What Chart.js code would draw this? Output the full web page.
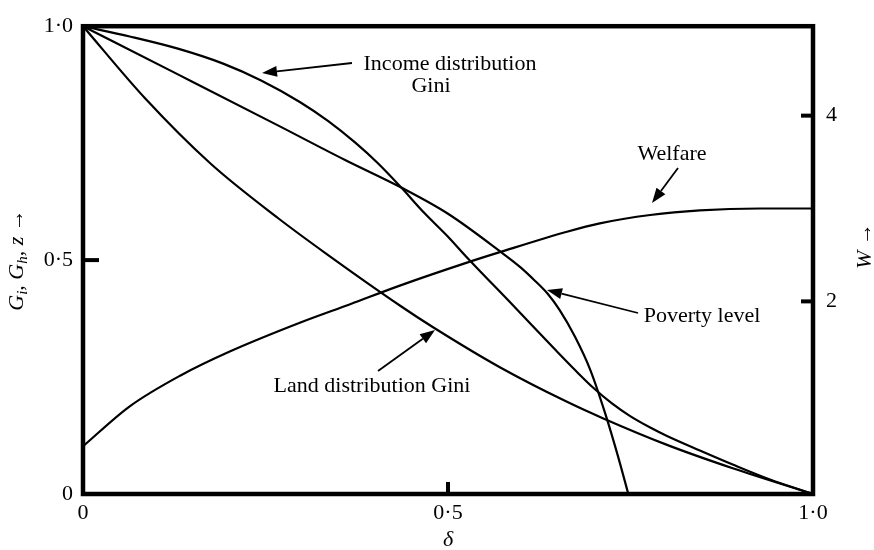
<!DOCTYPE html>
<html><head><meta charset="utf-8">
<script src="https://cdn.jsdelivr.net/npm/chart.js@4.4.1/dist/chart.umd.min.js"></script>
<style>html,body{margin:0;padding:0;background:#fff}#wrap{width:874px;height:550px;position:relative}</style>
</head><body><div id="wrap"><canvas id="c" width="874" height="550"></canvas></div>
<script>
// Axis ticks
const deltaTicks = [0, 0.5, 1.0];
const deltaTickLabels = ['0', '0·5', '1·0'];
const gTicks = [0, 0.5, 1.0];
const gTickLabels = ['0', '0·5', '1·0'];
const wTicks = [2, 4];
const wTickLabels = ['2', '4'];

// Income distribution Gini (G_i)
const incomeDelta = [0, 0.064, 0.130, 0.192, 0.244, 0.297, 0.336, 0.373, 0.404, 0.436, 0.468, 0.5, 0.527, 0.588, 0.649, 0.674, 0.699, 0.725, 0.749, 0.777, 0.8, 0.845, 0.890, 0.941, 1.0];
const incomeGini  = [1, 0.978, 0.952, 0.920, 0.884, 0.838, 0.797, 0.751, 0.707, 0.655, 0.600, 0.550, 0.504, 0.405, 0.305, 0.265, 0.227, 0.193, 0.167, 0.142, 0.124, 0.093, 0.063, 0.031, 0];

// Poverty level (z)
const povertyDelta = [0, 0.130, 0.267, 0.359, 0.436, 0.5, 0.571, 0.599, 0.619, 0.636, 0.653, 0.674, 0.695, 0.715, 0.733, 0.747];
const povertyLevel = [1, 0.897, 0.788, 0.714, 0.655, 0.599, 0.519, 0.485, 0.456, 0.429, 0.393, 0.336, 0.265, 0.174, 0.080, 0];

// Land distribution Gini (G_h)
const landDelta = [0, 0.085, 0.175, 0.267, 0.332, 0.434, 0.479, 0.571, 0.663, 0.712, 0.8, 0.890, 1.0];
const landGini  = [1, 0.846, 0.706, 0.590, 0.515, 0.403, 0.357, 0.271, 0.197, 0.162, 0.105, 0.055, 0];

// Welfare (W, right axis)
const welfareDelta = [0, 0.064, 0.133, 0.201, 0.297, 0.366, 0.434, 0.527, 0.571, 0.663, 0.708, 0.777, 0.845, 0.927, 1.0];
const welfareW     = [0.44, 0.87, 1.20, 1.46, 1.77, 1.97, 2.17, 2.42, 2.53, 2.75, 2.84, 2.93, 2.98, 3.00, 3.00];

const pts = (xs, ys) => xs.map((x, i) => ({x: x, y: ys[i]}));
const FONT = 'Liberation Serif, "Times New Roman", serif';
const tickFont = {family: FONT, size: 22};

function lineDs(label, data, axis) {
  return {label, data, yAxisID: axis, showLine: true, borderColor: '#000', borderWidth: 2.2,
          pointRadius: 0, fill: false, cubicInterpolationMode: 'monotone'};
}

function arrow(ctx, x1, y1, x2, y2) {
  const ang = Math.atan2(y2 - y1, x2 - x1);
  const L = 15, H = 5.5;
  const bx = x2 - L * Math.cos(ang), by = y2 - L * Math.sin(ang);
  ctx.beginPath(); ctx.moveTo(x1, y1); ctx.lineTo(bx, by);
  ctx.lineWidth = 1.8; ctx.stroke();
  ctx.beginPath();
  ctx.moveTo(x2, y2);
  ctx.lineTo(bx + H * Math.sin(ang), by - H * Math.cos(ang));
  ctx.lineTo(bx - H * Math.sin(ang), by + H * Math.cos(ang));
  ctx.closePath(); ctx.fill();
}

function richText(ctx, parts, cx, cy, rot) {
  ctx.save();
  ctx.translate(cx, cy); ctx.rotate(rot);
  let w = 0;
  parts.forEach(p => { ctx.font = p.f; p.w = ctx.measureText(p.t).width; w += p.w; });
  let x = -w / 2;
  ctx.textBaseline = 'alphabetic'; ctx.textAlign = 'left';
  parts.forEach(p => { ctx.font = p.f; ctx.fillText(p.t, x, 7 + (p.dy || 0)); x += p.w; });
  ctx.restore();
}

const decor = {
  id: 'decor',
  afterDatasetsDraw(chart) {
    const {ctx, chartArea: a, scales} = chart;
    ctx.save();
    ctx.strokeStyle = '#000'; ctx.fillStyle = '#000';
    // frame
    ctx.lineWidth = 4.5; ctx.lineJoin = 'miter';
    ctx.strokeRect(a.left, a.top, a.right - a.left, a.bottom - a.top);
    // inner ticks
    ctx.lineWidth = 4;
    const yh = scales.y.getPixelForValue(0.5);
    ctx.beginPath(); ctx.moveTo(a.left, yh); ctx.lineTo(a.left + 16, yh); ctx.stroke();
    const xh = scales.x.getPixelForValue(0.5);
    ctx.beginPath(); ctx.moveTo(xh, a.bottom); ctx.lineTo(xh, a.bottom - 12); ctx.stroke();
    wTicks.forEach(v => {
      const yy = scales.w.getPixelForValue(v);
      ctx.beginPath(); ctx.moveTo(a.right, yy); ctx.lineTo(a.right - 12, yy); ctx.stroke();
    });
    // annotations
    ctx.font = '22px ' + FONT; ctx.textAlign = 'center'; ctx.textBaseline = 'alphabetic';
    ctx.fillText('Income distribution', 450, 70);
    ctx.fillText('Gini', 431, 92);
    ctx.fillText('Welfare', 672, 160);
    ctx.fillText('Poverty level', 702, 322);
    ctx.fillText('Land distribution Gini', 372, 392);
    arrow(ctx, 352, 63, 262, 73);
    arrow(ctx, 678, 168, 652, 203);
    arrow(ctx, 638, 313, 547, 290);
    arrow(ctx, 378, 371, 435, 330);
    // axis titles
    const it = 'italic 22px ' + FONT, rg = '22px ' + FONT, sb = 'italic 15px ' + FONT;
    richText(ctx, [
      {t: 'G', f: it}, {t: 'i', f: sb, dy: 4}, {t: ', ', f: rg},
      {t: 'G', f: it}, {t: 'h', f: sb, dy: 4}, {t: ', ', f: rg},
      {t: 'z', f: it}, {t: ' →', f: 'bold 22px ' + FONT}
    ], 16, 260, -Math.PI / 2);
    richText(ctx, [{t: 'W', f: it}, {t: ' →', f: 'bold 22px ' + FONT}], 864, 246, -Math.PI / 2);
    ctx.font = 'italic 22px ' + FONT; ctx.textAlign = 'center'; ctx.textBaseline = 'middle';
    ctx.fillText('δ', xh, 540);
    ctx.restore();
  }
};

new Chart(document.getElementById('c'), {
  type: 'scatter',
  data: {
    datasets: [
      lineDs('Income distribution Gini', pts(incomeDelta, incomeGini), 'y'),
      lineDs('Poverty level', pts(povertyDelta, povertyLevel), 'y'),
      lineDs('Land distribution Gini', pts(landDelta, landGini), 'y'),
      lineDs('Welfare', pts(welfareDelta, welfareW), 'w')
    ]
  },
  options: {
    responsive: false, animation: false, devicePixelRatio: 1,
    layout: {padding: {top: 18, left: 0, right: 0, bottom: 0}},
    plugins: {legend: {display: false}, tooltip: {enabled: false}},
    scales: {
      x: {
        type: 'linear', min: 0, max: 1, position: 'bottom',
        afterBuildTicks: s => { s.ticks = deltaTicks.map(v => ({value: v})); },
        afterFit: s => { s.height = 56; },
        grid: {display: false, drawTicks: false}, border: {display: false},
        ticks: {callback: v => deltaTickLabels[deltaTicks.indexOf(v)], font: tickFont, color: '#000',
                padding: 6, maxRotation: 0, autoSkip: false}
      },
      y: {
        type: 'linear', min: 0, max: 1, position: 'left',
        afterBuildTicks: s => { s.ticks = gTicks.map(v => ({value: v})); },
        afterFit: s => { s.width = 83; },
        grid: {display: false, drawTicks: false}, border: {display: false},
        ticks: {callback: v => gTickLabels[gTicks.indexOf(v)], font: tickFont, color: '#000', padding: 10}
      },
      w: {
        type: 'linear', min: -0.074, max: 4.963, position: 'right',
        afterBuildTicks: s => { s.ticks = wTicks.map(v => ({value: v})); },
        afterFit: s => { s.width = 61; },
        grid: {display: false, drawTicks: false}, border: {display: false},
        ticks: {callback: v => wTickLabels[wTicks.indexOf(v)], font: tickFont, color: '#000', padding: 13}
      }
    }
  },
  plugins: [decor]
});
</script>
</body></html>
